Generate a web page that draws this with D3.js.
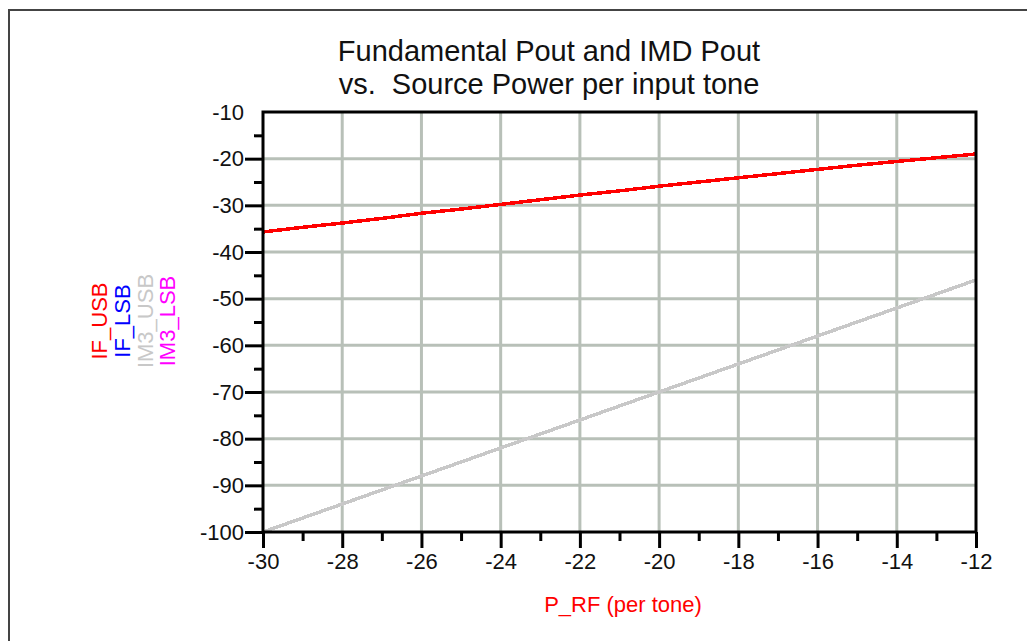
<!DOCTYPE html>
<html>
<head>
<meta charset="utf-8">
<script src="https://cdn.jsdelivr.net/npm/d3@7"></script>
<style>
    body { margin: 0; background: #fff; }
    text { font-family: "Liberation Sans", Arial, sans-serif; }
</style>
</head>
<body>
<div class="vis-chart"></div>
<script>
// source power per tone (dBm)
const pRf = [-30, -29, -28, -27, -26, -25, -24, -23, -22, -21, -20, -19, -18, -17, -16, -15, -14, -13, -12];
// fundamental output, upper / lower sideband
const ifUsb = [-35.7, -34.7, -33.8, -32.8, -31.7, -30.8, -29.8, -28.8, -27.8, -26.9, -25.9, -25.0, -24.1, -23.2, -22.3, -21.4, -20.6, -19.8, -19.0];
const ifLsb = [-35.7, -34.7, -33.8, -32.8, -31.7, -30.8, -29.8, -28.8, -27.8, -26.9, -25.9, -25.0, -24.1, -23.2, -22.3, -21.4, -20.6, -19.8, -19.0];
// third order intermod, upper / lower sideband
const im3Usb = [-100, -97, -94, -91, -88, -85, -82, -79, -76, -73, -70, -67, -64, -61, -58, -55, -52, -49, -46];
const im3Lsb = [-100, -97, -94, -91, -88, -85, -82, -79, -76, -73, -70, -67, -64, -61, -58, -55, -52, -49, -46];

const xTicks = [-30, -28, -26, -24, -22, -20, -18, -16, -14, -12];
const xMinor = [-29, -27, -25, -23, -21, -19, -17, -15, -13];
const yTicks = [-10, -20, -30, -40, -50, -60, -70, -80, -90, -100];
const yMinor = [-15, -25, -35, -45, -55, -65, -75, -85, -95];

const titleLines = ["Fundamental Pout and IMD Pout", "vs.  Source Power per input tone"];
const xTitle = "P_RF (per tone)";
const seriesNames = ["IF_USB", "IF_LSB", "IM3_USB", "IM3_LSB"];

const config = {
    "grid-color": "#b8c0b8",
    "frame-color": "#444"
};

const W = 1027, H = 641;
const margin = { top: 112, right: 51, bottom: 109, left: 263 };
const width = W - margin.left - margin.right;
const height = H - margin.top - margin.bottom;

const root = d3.select(".vis-chart")
    .append("svg")
    .attr("width", W)
    .attr("height", H);

// outer frame (runs off the right and bottom edges)
root.append("rect")
    .attr("x", 9).attr("y", 10)
    .attr("width", 1100).attr("height", 700)
    .attr("fill", "none")
    .attr("stroke", config["frame-color"])
    .attr("stroke-width", 2);

// title
root.append("g").selectAll("text")
    .data(titleLines)
    .enter()
    .append("text")
    .attr("x", 549)
    .attr("y", (d, i) => 61 + i * 33)
    .attr("text-anchor", "middle")
    .attr("font-size", "29px")
    .attr("fill", "#111")
    .style("white-space", "pre")
    .text(d => d);

const svg = root.append("g")
    .attr("transform", "translate(" + margin.left + "," + margin.top + ")");

let x = d3.scaleLinear().domain([-30, -12]).range([0, width]);
let y = d3.scaleLinear().domain([-100, -10]).range([height, 0]);

// grid
svg.append("g").selectAll("line")
    .data(xTicks.slice(1, -1))
    .enter()
    .append("line")
    .attr("x1", d => x(d)).attr("x2", d => x(d))
    .attr("y1", 0).attr("y2", height)
    .attr("stroke", config["grid-color"])
    .attr("stroke-width", 3);
svg.append("g").selectAll("line")
    .data(yTicks.slice(1, -1))
    .enter()
    .append("line")
    .attr("y1", d => y(d)).attr("y2", d => y(d))
    .attr("x1", 0).attr("x2", width)
    .attr("stroke", config["grid-color"])
    .attr("stroke-width", 3);

// traces (LSB drawn underneath, they coincide with USB)
const colors = { "IF_USB": "#ff0000", "IF_LSB": "#0000ff", "IM3_USB": "#c8c8c8", "IM3_LSB": "#ff00ff" };
const traces = [
    { name: "IM3_LSB", values: im3Lsb },
    { name: "IF_LSB", values: ifLsb },
    { name: "IM3_USB", values: im3Usb },
    { name: "IF_USB", values: ifUsb }
];
const line = d3.line()
    .x((d, i) => x(pRf[i]))
    .y(d => y(d));
svg.append("g").selectAll("path")
    .data(traces)
    .enter()
    .append("path")
    .attr("d", d => line(d.values))
    .attr("fill", "none")
    .attr("stroke", d => colors[d.name])
    .attr("stroke-width", 3.5)
    .attr("shape-rendering", "crispEdges");

// plot box
svg.append("rect")
    .attr("width", width).attr("height", height)
    .attr("fill", "none")
    .attr("stroke", "#000")
    .attr("stroke-width", 3);

// axes
const fmt = d => String(d);
const styleAxis = (g) => {
    g.select(".domain").remove();
    g.selectAll("line").attr("stroke", "#000").attr("stroke-width", 3);
    g.selectAll("text").attr("font-size", "22px").attr("fill", "#111")
        .attr("font-family", "Liberation Sans, Arial, sans-serif");
};
svg.append("g")
    .attr("transform", "translate(0," + height + ")")
    .call(d3.axisBottom(x).tickValues(xTicks).tickSize(16).tickPadding(5).tickFormat(fmt))
    .call(styleAxis);
svg.append("g")
    .attr("transform", "translate(0," + height + ")")
    .call(d3.axisBottom(x).tickValues(xMinor).tickSize(9).tickFormat(""))
    .call(styleAxis);
const yAxis = svg.append("g")
    .call(d3.axisLeft(y).tickValues(yTicks).tickSize(18).tickPadding(1).tickFormat(fmt))
    .call(styleAxis);
yAxis.selectAll(".tick").filter(d => d === -10).select("line").remove();
svg.append("g")
    .call(d3.axisLeft(y).tickValues(yMinor).tickSize(9).tickFormat(""))
    .call(styleAxis);

// x title
root.append("text")
    .attr("x", 623)
    .attr("y", 612)
    .attr("text-anchor", "middle")
    .attr("font-size", "22px")
    .attr("fill", "#ff0000")
    .text(xTitle);

// legend, rotated
const legendX = [107, 130, 153, 175];
root.append("g").selectAll("text")
    .data(seriesNames)
    .enter()
    .append("text")
    .attr("transform", (d, i) => "translate(" + legendX[i] + ",321)rotate(-90)")
    .attr("text-anchor", "middle")
    .attr("font-size", "22px")
    .attr("fill", d => colors[d])
    .text(d => d);
</script>
</body>
</html>
